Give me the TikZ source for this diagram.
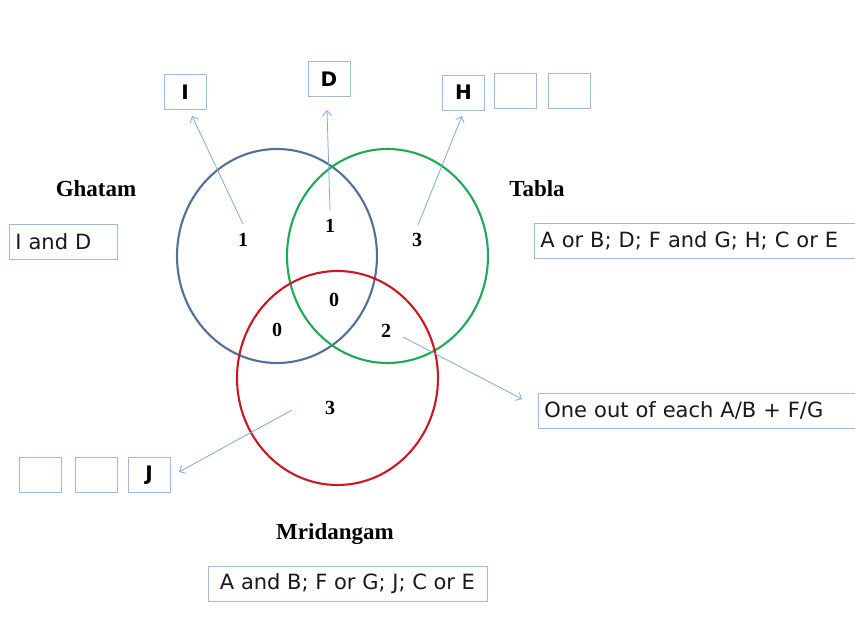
\documentclass[tikz,border=0pt]{standalone}
\usepackage{fontspec}
\setmainfont{DejaVu Sans}
\newfontfamily\titlefont{Liberation Serif}
\usetikzlibrary{arrows.meta}
\definecolor{cblue}{RGB}{84,112,150}
\definecolor{cgreen}{RGB}{30,170,85}
\definecolor{cred}{RGB}{200,25,35}
\definecolor{boxline}{RGB}{160,185,215}
\definecolor{arrowc}{RGB}{130,170,215}
\begin{document}
\begin{tikzpicture}[x=1pt,y=-1pt,
  setring/.style={line width=2.1pt},
  tbox/.style={draw=boxline, line width=0.8pt, inner xsep=6pt, inner ysep=0pt, minimum height=35pt, font=\fontsize{21}{24}\selectfont, text=black!90},
  lbox/.style={draw=boxline, line width=0.8pt, inner sep=0pt, minimum width=42pt, minimum height=35pt, font=\fontsize{20}{22}\selectfont\bfseries},
  title/.style={font=\titlefont\fontsize{23}{26}\selectfont\bfseries},
  num/.style={font=\titlefont\fontsize{20}{22}\selectfont\bfseries, inner sep=1pt},
  conn/.style={draw=arrowc, line width=0.8pt, -{Straight Barb[length=5pt,width=9pt]}}
]
\useasboundingbox (0,0) rectangle (855,642);
\fill[white] (0,0) rectangle (855,642);

% circles
\draw[setring, cblue] (277,256) ellipse [x radius=100pt, y radius=107pt];
\draw[setring, cgreen] (387.5,256) ellipse [x radius=100.5pt, y radius=107pt];
\draw[setring, cred] (337.5,378) ellipse [x radius=100.5pt, y radius=107pt];

% region numbers
\node[num] (nG) at (243,240) {1};
\node[num] (nGT) at (330,226) {1};
\node[num] (nT) at (417,240) {3};
\node[num] (nAll) at (334,300) {0};
\node[num] (nGM) at (277,330) {0};
\node[num] (nTM) at (386,331) {2};
\node[num] (nM) at (330,408) {3};

% titles
\node[title] (tG) at (96,189) {Ghatam};
\node[title] (tT) at (537,189) {Tabla};
\node[title] (tM) at (335,534) {Mridangam};

% text boxes
\node[tbox, anchor=west, text width=96pt, align=left] (bG) at (9,241.5) {I and D};
\node[tbox, anchor=west, text width=312pt, align=left] (bT) at (534,240.5) {A or B; D; F and G; H; C or E};
\node[tbox, anchor=west, text width=308pt, align=left] (bTM) at (538,410.5) {One out of each A/B + F/G};
\node[tbox, anchor=center, minimum width=279pt] (bM) at (347.5,583.5) {A and B; F or G; J; C or E};

% letter boxes
\node[lbox] (lI) at (185,92) {I};
\node[lbox] (lD) at (329,79) {D};
\node[lbox] (lH) at (463.5,92.5) {H};
\node[lbox] (lH2) at (515.5,90.5) {};
\node[lbox] (lH3) at (569.5,90.5) {};
\node[lbox] (lJ1) at (40,475) {};
\node[lbox] (lJ2) at (96.5,475) {};
\node[lbox] (lJ) at (149,475) {J};

% connector ends
\coordinate (sG) at (243,224);
\coordinate (eG) at (192,116);
\coordinate (sGT) at (330,210);
\coordinate (eGT) at (327,110);
\coordinate (sT) at (418,225);
\coordinate (eT) at (462,116);
\coordinate (sTM) at (403,337);
\coordinate (eTM) at (522,399);
\coordinate (sM) at (292,410);
\coordinate (eM) at (179,472);

\draw[conn] (sG) -- (eG);
\draw[conn] (sGT) -- (eGT);
\draw[conn] (sT) -- (eT);
\draw[conn] (sTM) -- (eTM);
\draw[conn] (sM) -- (eM);
\end{tikzpicture}
\end{document}
